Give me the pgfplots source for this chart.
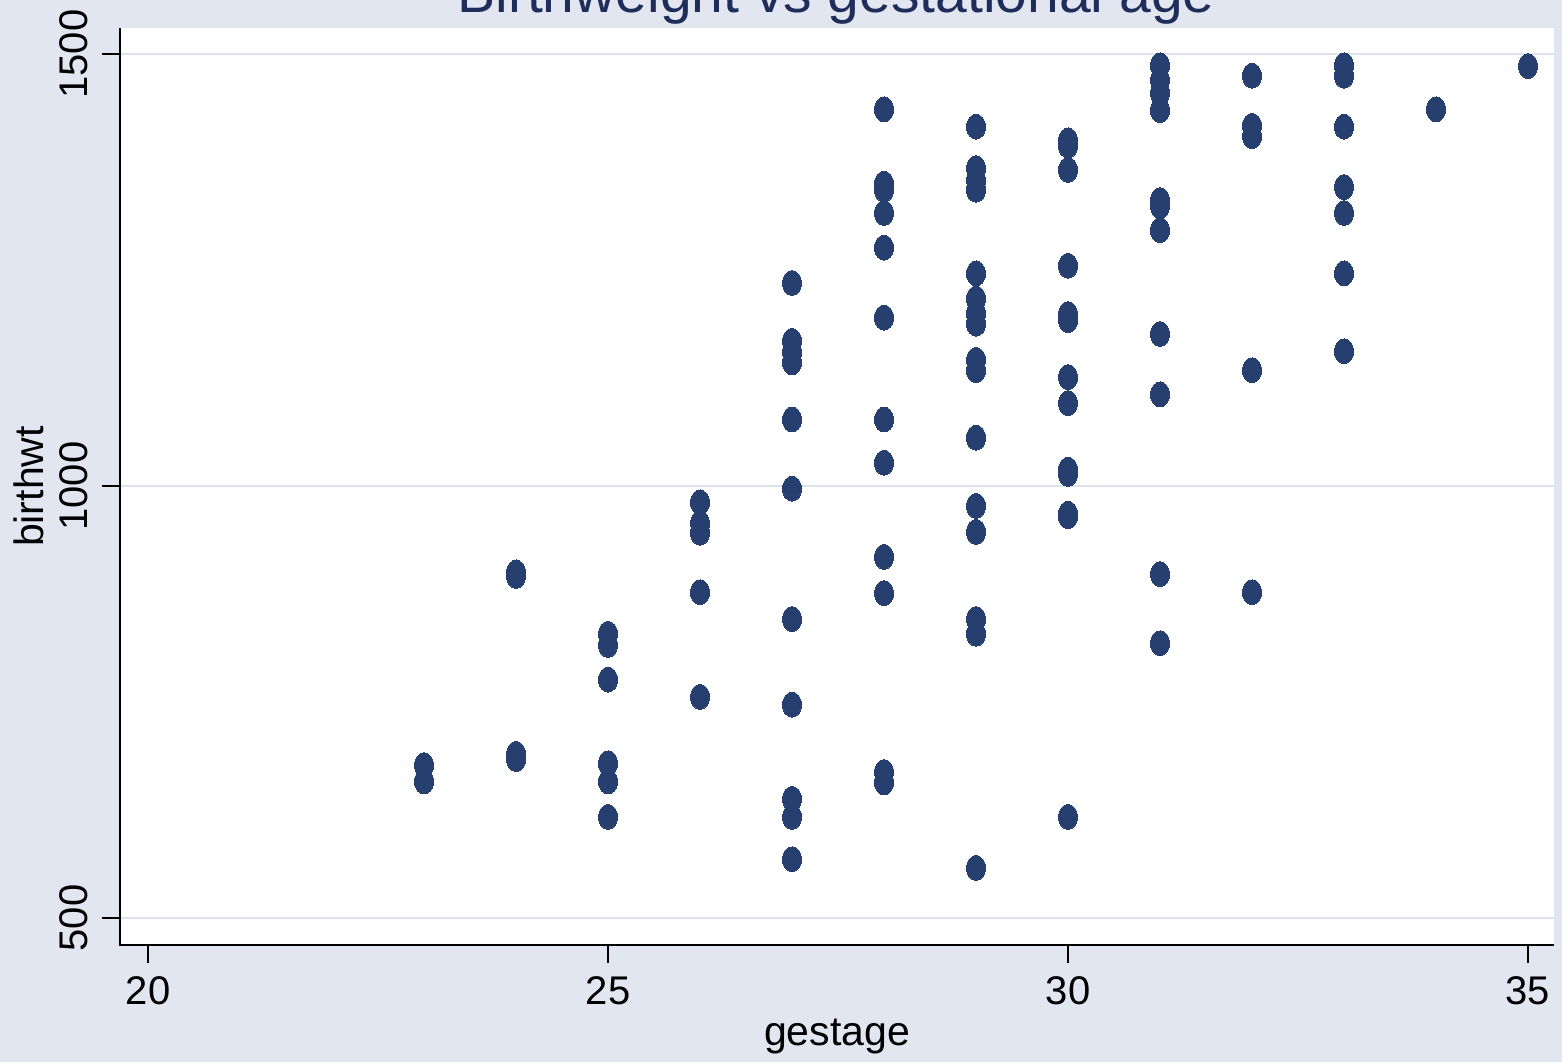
\documentclass[border=0pt]{standalone}
\usepackage{fontspec}
\setmainfont{Liberation Sans}
\usepackage{pgfplots}
\pgfplotsset{compat=1.18}
\definecolor{bg}{RGB}{225,230,240}
\definecolor{gridc}{RGB}{220,226,238}
\definecolor{mk}{RGB}{38,63,110}
\definecolor{titlec}{RGB}{30,45,90}
\begin{document}
\begin{tikzpicture}
\fill[bg] (0pt,0pt) rectangle (781pt,-531pt);
\node[anchor=base, font=\fontsize{28.5}{34}\selectfont, text=titlec] at (418pt,-6pt) {Birthweight vs gestational age};
\begin{axis}[
  at={(60pt,-472.5pt)}, anchor=south west,
  scale only axis, width=717pt, height=458.5pt,
  xmin=19.6954, xmax=35.2828, ymin=468.75, ymax=1530.1,
  clip=false,
  axis line style={draw=none},
  axis background/.style={fill=white},
  xtick={20,25,30,35}, ytick={500,1000,1500},
  xtick pos=bottom, ytick pos=left,
  ymajorgrids, grid style={gridc, line width=1.4pt},
  major tick length=9pt,
  tick style={black, line width=1.3pt},
  tick align=outside,
  /pgf/number format/assume math mode=true,
  /pgf/number format/1000 sep={},
  ticklabel style={font=\fontsize{20}{24}\selectfont},
  xticklabel style={anchor=base},
  yticklabel style={rotate=90, anchor=base},
  xticklabel shift=20.5pt,
  yticklabel shift=7.5pt,
  xlabel={gestage}, ylabel={birthwt},
  label style={font=\fontsize{20.5}{24}\selectfont},
  xlabel style={at={(axis description cs:0.5,-0.10905)}, anchor=base},
  ylabel style={at={(axis description cs:-0.0537,0.5)}, anchor=base},
]
\addplot[only marks, mark=*, mark size=4.8pt, mark options={draw=mk, fill=mk, line width=0pt, yscale=1.3}] table {
x y
23 677
23 658
24 900
24 896
24 690
24 684
25 829
25 816
25 776
25 679
25 658
25 617
26 981
26 957
26 946
26 877
26 756
27 1235
27 1168
27 1155
27 1143
27 1077
27 997
27 846
27 747
27 638
27 617
27 568
28 1436
28 1350
28 1343
28 1316
28 1276
28 1195
28 1077
28 1027
28 918
28 876
28 669
28 657
29 1416
29 1368
29 1354
29 1343
29 1246
29 1217
29 1200
29 1188
29 1146
29 1134
29 1056
29 977
29 947
29 846
29 829
29 558
30 1400
30 1394
30 1366
30 1255
30 1199
30 1192
30 1126
30 1096
30 1019
30 1014
30 968
30 965
30 617
31 1487
31 1470
31 1455
31 1435
31 1331
31 1324
31 1296
31 1176
31 1106
31 898
31 818
32 1475
32 1417
32 1405
32 1134
32 877
33 1487
33 1475
33 1416
33 1346
33 1316
33 1246
33 1156
34 1436
35 1486
};
\draw[black, line width=1.4pt] (rel axis cs:0,1) -- (rel axis cs:0,0) -- (rel axis cs:1,0);
\end{axis}
\pgfresetboundingbox
\path[use as bounding box] (0pt,0pt) rectangle (781pt,-531pt);
\end{tikzpicture}
\end{document}
